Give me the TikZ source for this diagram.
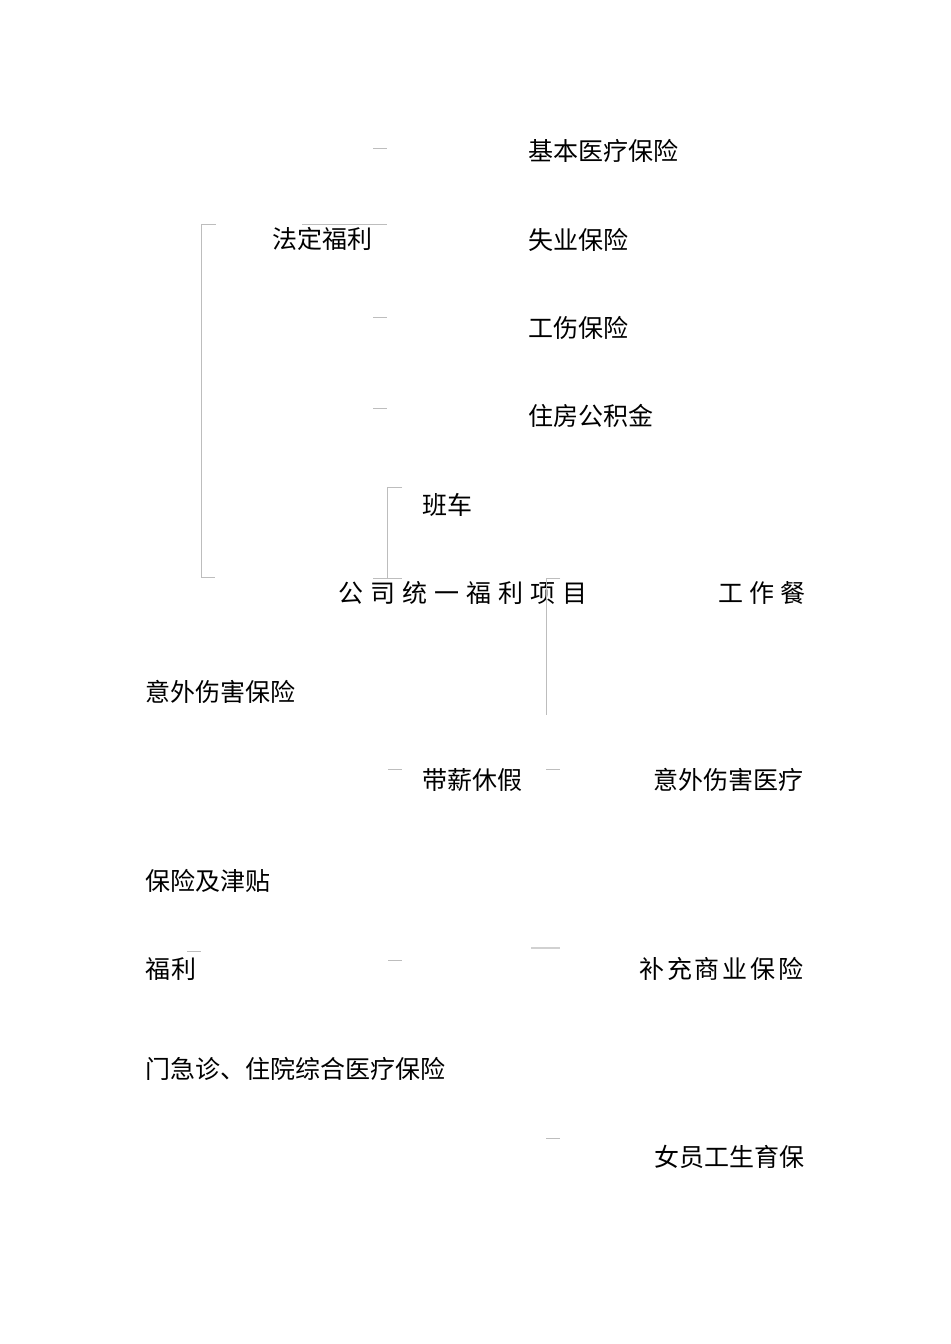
\documentclass[tikz,border=0pt]{standalone}
\usepackage{fontspec}
\newfontfamily\cjk{Noto Sans CJK SC}
\definecolor{rulegray}{HTML}{BDBDBD}
\newcommand\gapW{\hspace{5.25pt}}
\newcommand\gapN{\hspace{4.5pt}}
\newcommand\gapS{\hspace{2.1pt}}
\newcommand\gapT{\hspace{1.2pt}}
\begin{document}
\begin{tikzpicture}[x=0.75pt,y=-0.75pt,
  lbl/.style={anchor=west,inner sep=0pt,font=\cjk\fontsize{18.75}{22}\selectfont},
  rule/.style={draw=rulegray,line width=0.75pt}]
\useasboundingbox[fill=white] (0,0) rectangle (950,1344);
% labels
\node[lbl] (jb) at (528,151) {基本医疗保险};
\node[lbl] (fd) at (272,239) {法定福利};
\node[lbl] (sy) at (528,240) {失业保险};
\node[lbl] (gs) at (528,328) {工伤保险};
\node[lbl] (zf) at (528,416) {住房公积金};
\node[lbl] (bc) at (422,505) {班车};
\node[lbl] (gstg) at (338,593) {公\gapW 司\gapW 统\gapW 一\gapW 福\gapW 利\gapW 项\gapW 目};
\node[lbl] (gzc) at (718,593) {工\gapN 作\gapN 餐};
\node[lbl] (ywbx) at (145,692) {意外伤害保险};
\node[lbl] (dx) at (422,780) {带薪休假};
\node[lbl] (ywyl) at (653,780) {意外伤害医疗};
\node[lbl] (bxjt) at (145,881) {保险及津贴};
\node[lbl] (fl) at (145,969) {福\gapT 利};
\node[lbl] (bc2) at (639,969) {补\gapS 充\gapS 商\gapS 业\gapS 保\gapS 险};
\node[lbl] (mjz) at (145,1069) {门急诊、住院综合医疗保险};
\node[lbl] (nyg) at (654,1157) {女员工生育保};
% rule fragments
\coordinate (a1) at (373,149); \coordinate (a2) at (387,149);
\coordinate (b1) at (201,225); \coordinate (b2) at (216,225);
\coordinate (c1) at (302,225); \coordinate (c2) at (387,225);
\coordinate (d1) at (201,577); \coordinate (d2) at (215,577);
\coordinate (e1) at (373,317); \coordinate (e2) at (387,317);
\coordinate (f1) at (373,408); \coordinate (f2) at (387,408);
\coordinate (g1) at (402,487); \coordinate (g2) at (387,487); \coordinate (g3) at (387,578);
\coordinate (h1) at (373,578); \coordinate (h2) at (402,578);
\coordinate (i1) at (560,578); \coordinate (i2) at (546,578); \coordinate (i3) at (546,715);
\coordinate (j1) at (388,769); \coordinate (j2) at (402,769);
\coordinate (k1) at (546,769); \coordinate (k2) at (560,769);
\coordinate (l1) at (187,951); \coordinate (l2) at (201,951);
\coordinate (m1) at (388,960); \coordinate (m2) at (402,960);
\coordinate (n1) at (531,948); \coordinate (n2) at (560,948);
\coordinate (o1) at (546,1138); \coordinate (o2) at (560,1138);
\draw[rule] (a1) -- (a2);
\draw[rule] (b1) -- (b2);
\draw[rule] (c1) -- (c2);
\draw[rule] (b1) -- (d1) -- (d2);
\draw[rule] (e1) -- (e2);
\draw[rule] (f1) -- (f2);
\draw[rule] (g1) -- (g2) -- (g3);
\draw[rule] (h1) -- (h2);
\draw[rule] (i1) -- (i2) -- (i3);
\draw[rule] (j1) -- (j2);
\draw[rule] (k1) -- (k2);
\draw[rule] (l1) -- (l2);
\draw[rule] (m1) -- (m2);
\draw[rule,line width=1.2pt,draw=rulegray!70] (n1) -- (n2);
\draw[rule] (o1) -- (o2);
\end{tikzpicture}
\end{document}
